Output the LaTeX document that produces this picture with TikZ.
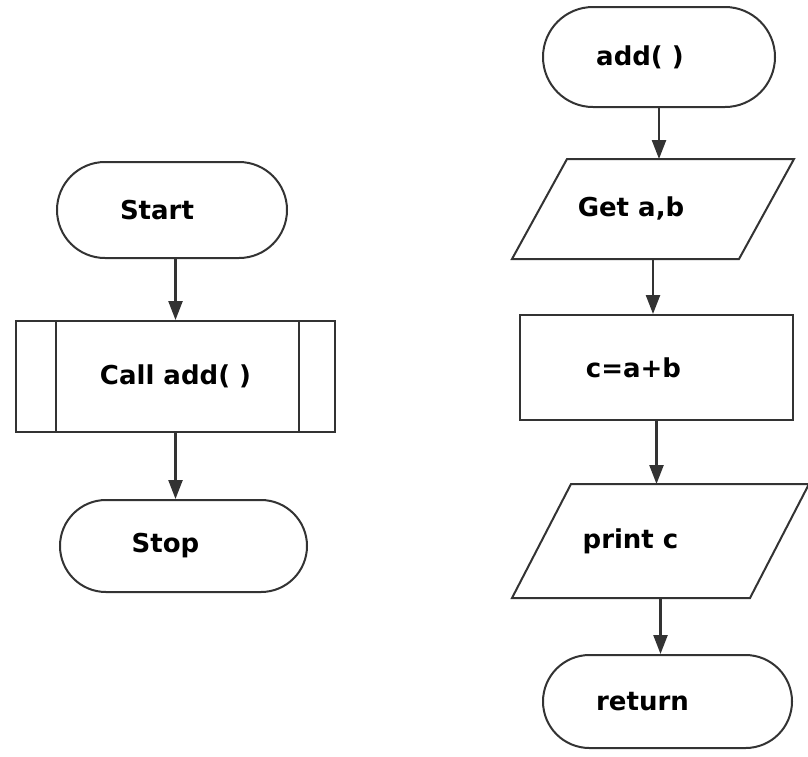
\documentclass[tikz,border=0pt]{standalone}
\usepackage{fontspec}
\setmainfont{DejaVu Sans}
\usetikzlibrary{shapes.misc,arrows.meta}

\begin{document}
\begin{tikzpicture}[x=1pt, y=-1pt, line width=2pt, draw=black!80,
    every node/.style={font=\bfseries\fontsize{26}{30}\selectfont, inner sep=0pt},
    term/.style={draw, rounded rectangle},
    io/.style={rectangle},
    proc/.style={draw, rectangle},
    arr/.style={line width=2.4pt, -{Triangle[width=14pt,length=19pt]}}]
  \useasboundingbox (0,0) rectangle (808,756);
  % main flow
  \node [term, minimum width=230pt, minimum height=96pt] (start) at (172,210) {Start\kern30pt};
  \node [proc, minimum width=319pt, minimum height=111pt] (call) at (175.5,376.5) {Call add( )};
  \node [term, minimum width=247pt, minimum height=92pt] (stop) at (183.5,546) {Stop\kern36pt};
  \draw ([xshift=41pt]call.north west) -- ([xshift=41pt]call.south west);
  \draw ([xshift=-37pt]call.north east) -- ([xshift=-37pt]call.south east);
  \draw [arr] (start.south -| call.north) -- (call.north);
  \draw [arr] (call.south) -- (call.south |- stop.north);
  % function add
  \node [term, minimum width=232pt, minimum height=100pt] (add) at (659,57) {add( )\kern38pt};
  \node [io, minimum width=225pt, minimum height=98pt] (get) at (653,209) {\raisebox{4pt}{Get a,b}\kern44pt};
  \node [proc, minimum width=273pt, minimum height=105pt] (sum) at (656.5,367.5) {c=a+b\kern46pt};
  \node [io, minimum width=236pt, minimum height=112pt] (print) at (660.5,541) {print c\kern60pt};
  \node [term, minimum width=249pt, minimum height=93pt] (ret) at (667.5,701.5) {return\kern50pt};
  \draw ([xshift=27.5pt]get.north west) -- ([xshift=27.5pt]get.north east)
    -- ([xshift=-27.5pt]get.south east) -- ([xshift=-27.5pt]get.south west) -- cycle;
  \draw ([xshift=29.5pt]print.north west) -- ([xshift=29.5pt]print.north east)
    -- ([xshift=-29.5pt]print.south east) -- ([xshift=-29.5pt]print.south west) -- cycle;
  \draw [arr] (add.south) -- (add.south |- get.north);
  \draw [arr] (get.south) -- (get.south |- sum.north);
  \draw [arr] (sum.south) -- (sum.south |- print.north);
  \draw [arr] (print.south) -- (print.south |- ret.north);
\end{tikzpicture}
\end{document}
